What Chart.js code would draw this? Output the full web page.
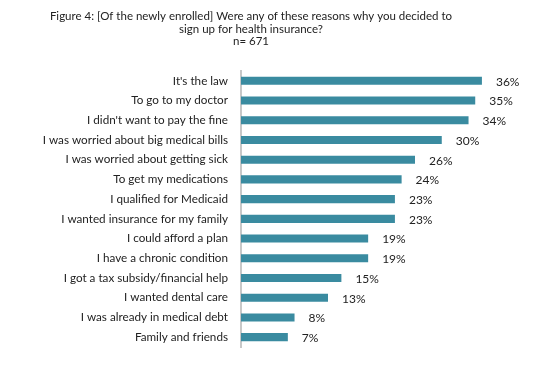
<!DOCTYPE html>
<html>
<head>
<meta charset="utf-8">
<script src="https://cdn.jsdelivr.net/npm/chart.js@4"></script>
<style>
  body { margin: 0; background: #fff; }
  .wrap { width: 553px; height: 371px; }
</style>
</head>
<body>
<div class="wrap"><canvas id="grafico"></canvas></div>
<script>
const reasons = ["It's the law", 'To go to my doctor', "I didn't want to pay the fine",
  'I was worried about big medical bills', 'I was worried about getting sick', 'To get my medications',
  'I qualified for Medicaid', 'I wanted insurance for my family', 'I could afford a plan',
  'I have a chronic condition', 'I got a tax subsidy/financial help', 'I wanted dental care',
  'I was already in medical debt', 'Family and friends']
const percents = [36, 35, 34, 30, 26, 24, 23, 23, 19, 19, 15, 13, 8, 7]
const titleLines = ['Figure 4: [Of the newly enrolled] Were any of these reasons why you decided to',
  'sign up for health insurance?', 'n= 671']

const fonte = "Lato, 'Open Sans', sans-serif"

// desenha os rotulos de % no fim de cada barra
const rotulos = {
  id: 'rotulos',
  afterDatasetsDraw(chart) {
    const ctx = chart.ctx
    const meta = chart.getDatasetMeta(0)
    ctx.save()
    ctx.font = '12px ' + fonte
    ctx.fillStyle = '#222'
    ctx.textAlign = 'left'
    ctx.textBaseline = 'middle'
    meta.data.forEach((bar, i) => {
      ctx.fillText(percents[i] + '%', bar.x + 14, bar.y + 1)
    })
    ctx.restore()
  }
}

const graph = new Chart(document.getElementById('grafico').getContext('2d'), {
  type: 'bar',
  data: {
    labels: reasons,
    datasets: [{
      data: percents,
      backgroundColor: '#3a8ba0',
      borderWidth: 0,
      barPercentage: 0.82,
      categoryPercentage: 0.5
    }]
  },
  options: {
    indexAxis: 'y',
    responsive: true,
    maintainAspectRatio: false,
    animation: false,
    layout: { padding: { left: 0, right: 51, top: 10, bottom: 24 } },
    plugins: {
      legend: { display: false },
      tooltip: { enabled: false },
      title: {
        display: true,
        text: titleLines,
        color: '#222',
        font: { family: fonte, size: 11.5, weight: 'normal', lineHeight: 1.1 },
        padding: { top: 0, bottom: 23 }
      }
    },
    scales: {
      x: {
        display: false,
        min: 0,
        max: 39
      },
      y: {
        afterFit(scale) { scale.width = 241 },
        grid: { display: false, drawTicks: false },
        border: { display: true, color: '#c8c8c8', width: 2 },
        ticks: {
          color: '#222',
          padding: 13,
          font: { family: fonte, size: 11.7 }
        }
      }
    }
  },
  plugins: [rotulos]
})
</script>
</body>
</html>
